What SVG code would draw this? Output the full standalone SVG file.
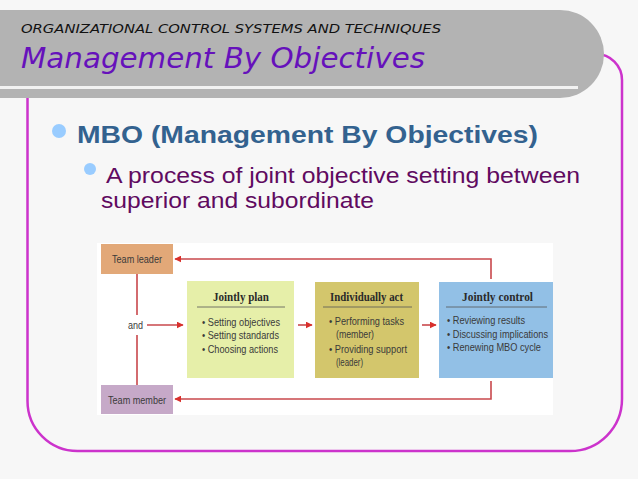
<svg xmlns="http://www.w3.org/2000/svg" width="638" height="479" viewBox="0 0 638 479">
<defs>
<marker id="ah" viewBox="0 0 10 10" refX="9" refY="5" markerWidth="7" markerHeight="7" markerUnits="userSpaceOnUse" orient="auto">
<path d="M0,0 L10,5 L0,10 z" fill="#d9302c"/>
</marker>
</defs>
<style>
.hdr{font-family:"DejaVu Sans",sans-serif;font-style:italic}
.lbl{font-family:"Liberation Sans",Arial,sans-serif;font-size:11.5px;fill:#3a3a3a}
.ttl{font-family:"Liberation Serif","Times New Roman",serif;font-size:11.5px;font-weight:bold;fill:#2a2a2a}
.conn{fill:none;stroke:#c9484c;stroke-width:1.6}
.rule{stroke:#555;stroke-width:0.8}
</style>
<rect x="0" y="0" width="638" height="479" fill="#f7f7f7"/>
<!-- frame -->
<path d="M27.5,60 V401 A50,50 0 0 0 77.5,451 H570 A52,52 0 0 0 622,399 V80 A26,26 0 0 0 596,54 H27.5 Z" fill="none" stroke="#cc33cc" stroke-width="2.5"/>
<!-- banner -->
<path d="M0,10 H560 A44,44 0 0 1 604,54 A44,44 0 0 1 560,98 H0 Z" fill="#b3b3b3"/>
<rect x="0" y="86" width="578" height="3" fill="#f2f2f2"/>
<text class="hdr" x="21" y="33" font-size="11.5" fill="#111" textLength="420" lengthAdjust="spacingAndGlyphs">ORGANIZATIONAL CONTROL SYSTEMS AND TECHNIQUES</text>
<text class="hdr" x="21" y="68" font-size="29" fill="#6611bb" textLength="404" lengthAdjust="spacingAndGlyphs">Management By Objectives</text>
<!-- bullets -->
<circle cx="59" cy="131" r="7" fill="#99ccff"/>
<text x="77" y="143" font-family="Liberation Sans,Arial,sans-serif" font-size="24" font-weight="bold" fill="#33628f" textLength="461" lengthAdjust="spacingAndGlyphs">MBO (Management By Objectives)</text>
<circle cx="90" cy="169" r="6" fill="#99ccff"/>
<text x="106" y="183" font-family="Liberation Sans,Arial,sans-serif" font-size="21.5" fill="#600a60" textLength="474" lengthAdjust="spacingAndGlyphs">A process of joint objective setting between</text>
<text x="101" y="208" font-family="Liberation Sans,Arial,sans-serif" font-size="21.5" fill="#600a60" textLength="273" lengthAdjust="spacingAndGlyphs">superior and subordinate</text>
<!-- diagram background -->
<rect x="97" y="243" width="456" height="172" fill="#ffffff"/>
<g id="connectors">
<path class="conn" d="M491,279 V259 H175" marker-end="url(#ah)"/>
<path class="conn" d="M491,381 V399 H175" marker-end="url(#ah)"/>
<path class="conn" d="M137,274 V315 M137,335 V385"/>
<path class="conn" d="M147,325 H183" marker-end="url(#ah)"/>
<path class="conn" d="M298,325 H312" marker-end="url(#ah)"/>
<path class="conn" d="M422,325 H436" marker-end="url(#ah)"/>
</g>
<g id="team-leader">
<rect x="101" y="244" width="72" height="30" fill="#e2a878"/>
<text class="lbl" x="112" y="263" textLength="50" lengthAdjust="spacingAndGlyphs">Team leader</text>
</g>
<g id="team-member">
<rect x="101" y="385" width="72" height="29" fill="#c6a9c8"/>
<text class="lbl" x="108" y="404" textLength="58" lengthAdjust="spacingAndGlyphs">Team member</text>
</g>
<g id="and">
<text class="lbl" x="128" y="329" textLength="15" lengthAdjust="spacingAndGlyphs">and</text>
</g>
<g id="jointly-plan">
<rect x="187" y="281" width="107" height="97" fill="#e6efa9"/>
<text class="ttl" x="213" y="301" textLength="56" lengthAdjust="spacingAndGlyphs">Jointly plan</text>
<line class="rule" x1="197" y1="307" x2="285" y2="307"/>
<text class="lbl" x="202" y="326" textLength="78" lengthAdjust="spacingAndGlyphs">• Setting objectives</text>
<text class="lbl" x="202" y="339" textLength="77" lengthAdjust="spacingAndGlyphs">• Setting standards</text>
<text class="lbl" x="202" y="353" textLength="76" lengthAdjust="spacingAndGlyphs">• Choosing actions</text>
</g>
<g id="individually-act">
<rect x="315" y="282" width="104" height="96" fill="#d3c66c"/>
<text class="ttl" x="330" y="301" textLength="73" lengthAdjust="spacingAndGlyphs">Individually act</text>
<line class="rule" x1="323" y1="307" x2="412" y2="307"/>
<text class="lbl" x="329" y="325" textLength="75" lengthAdjust="spacingAndGlyphs">• Performing tasks</text>
<text class="lbl" x="336" y="338" textLength="38" lengthAdjust="spacingAndGlyphs">(member)</text>
<text class="lbl" x="329" y="353" textLength="78" lengthAdjust="spacingAndGlyphs">• Providing support</text>
<text class="lbl" x="336" y="366" textLength="27" lengthAdjust="spacingAndGlyphs">(leader)</text>
</g>
<g id="jointly-control">
<rect x="439" y="282" width="114" height="96" fill="#92c0e6"/>
<text class="ttl" x="462" y="301" textLength="71" lengthAdjust="spacingAndGlyphs">Jointly control</text>
<line class="rule" x1="446" y1="307" x2="547" y2="307"/>
<text class="lbl" x="447" y="324" textLength="78" lengthAdjust="spacingAndGlyphs">• Reviewing results</text>
<text class="lbl" x="447" y="338" textLength="101" lengthAdjust="spacingAndGlyphs">• Discussing implications</text>
<text class="lbl" x="447" y="351" textLength="94" lengthAdjust="spacingAndGlyphs">• Renewing MBO cycle</text>
</g>
</svg>
